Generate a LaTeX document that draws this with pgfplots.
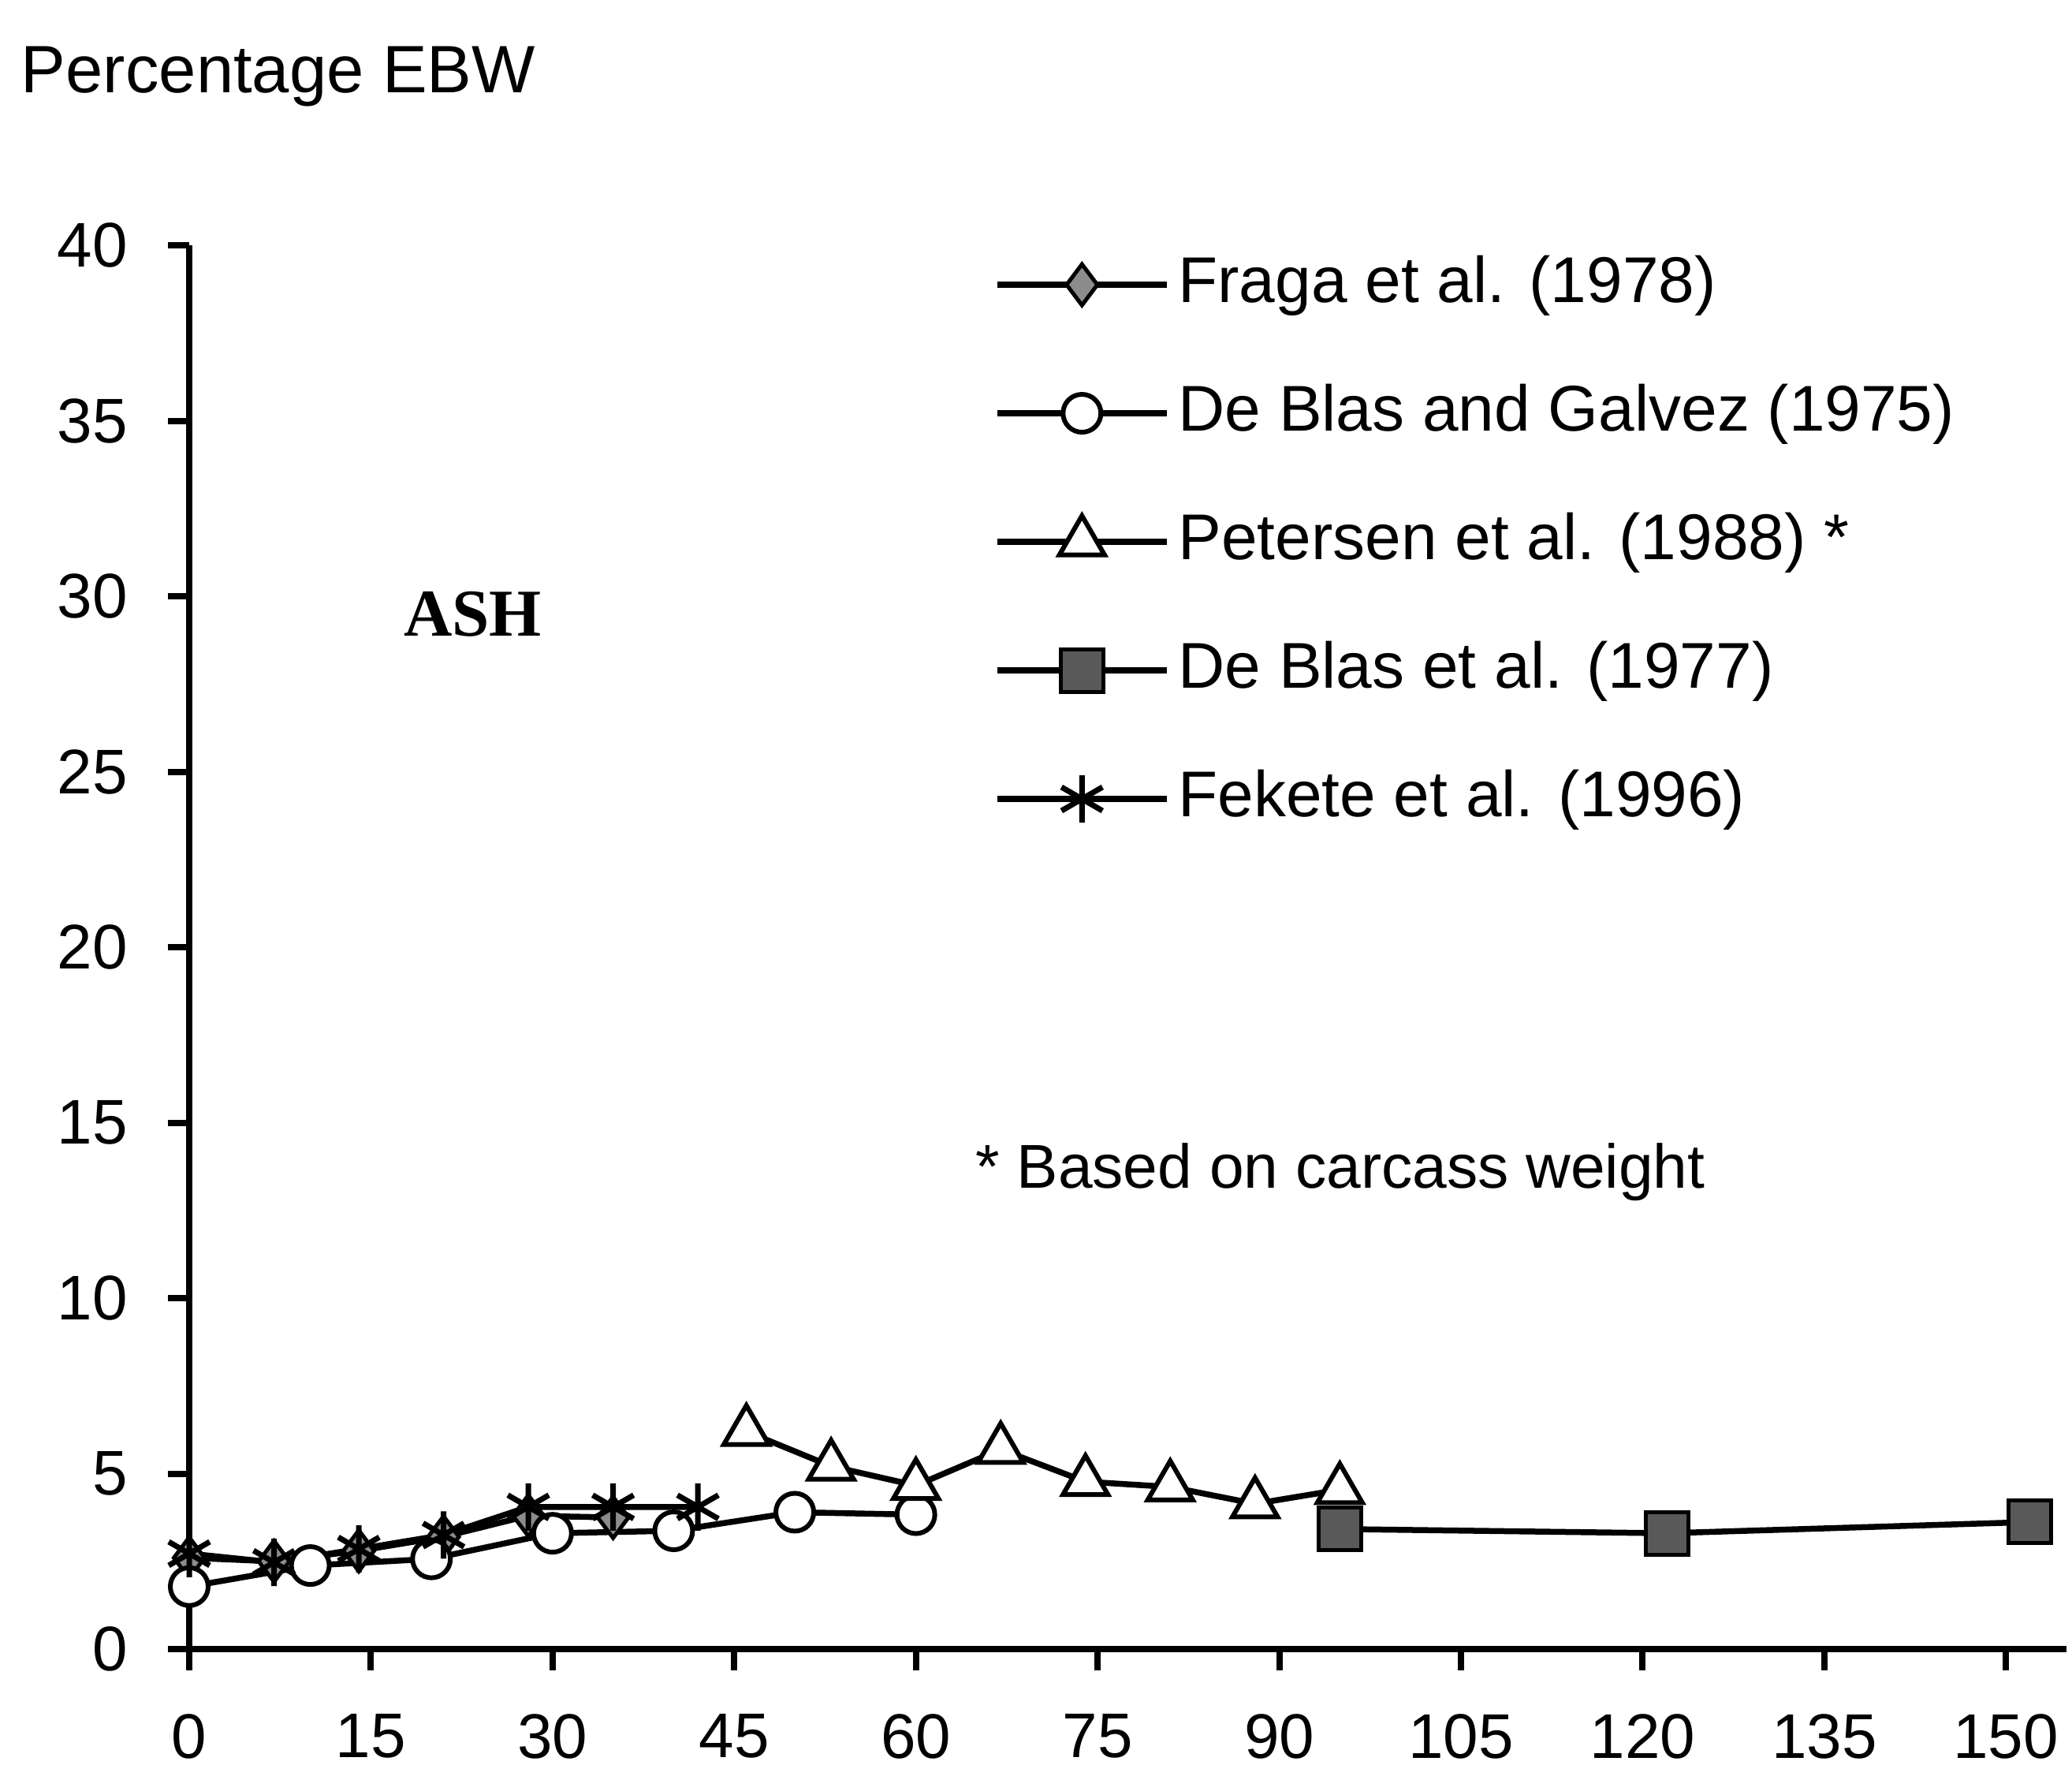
\documentclass[border=0pt]{standalone}
\usepackage{fontspec}
\setmainfont{Liberation Sans}
\newfontfamily\timesfont{Liberation Serif}
\usepackage{pgfplots}
\pgfplotsset{compat=1.18}

\begin{document}
\begin{tikzpicture}[x=1bp,y=1bp]
\useasboundingbox (0,0) rectangle (262.8,223.8);
\node[anchor=base west, inner sep=0pt, font=\fontsize{8.5bp}{10bp}\selectfont] at (2.5,212.1) {Percentage EBW};
\begin{axis}[
  at={(24bp,14.7bp)}, anchor=south west,
  scale only axis, width=238.1bp, height=178bp,
  xmin=0, xmax=155, ymin=0, ymax=40,
  axis x line*=bottom, axis y line*=left,
  axis line style={line width=0.8bp, -},
  xtick={0,15,...,150}, ytick={0,5,...,40},
  tick align=outside, major tick length=2.7bp,
  tick style={line width=0.8bp, black},
  ticklabel style={font=\fontsize{8bp}{9.6bp}\selectfont},
  /pgf/number format/assume math mode=true,
  xticklabel style={yshift=-2bp},
  yticklabel style={xshift=-1.6bp},
  legend style={at={(0.428,0.9955)}, anchor=north west, draw=none, fill=none,
    font=\fontsize{8.2bp}{9.8bp}\selectfont, row sep=8.3bp, inner sep=0pt,
    nodes={inner xsep=1.1bp, inner ysep=0pt, text height=6.2bp, text depth=1.8bp}},
  legend cell align=left,
  legend image code/.code={\draw[mark repeat=2,mark phase=2,#1] plot coordinates {(0bp,0bp) (10.75bp,0bp) (21.5bp,0bp)};},
  every axis plot/.append style={black, line width=0.75bp},
  clip=false,
]
\addplot[mark=diamond*, mark size=2.6bp, mark options={fill=black!45, draw=black, line width=0.5bp}]
  coordinates {(0,2.6) (7,2.5) (14,2.8) (21,3.2) (28,3.8) (35,3.75)};
\addlegendentry{Fraga et al. (1978)}
\addplot[mark=*, mark size=2.4bp, mark options={fill=white, draw=black, line width=0.6bp}]
  coordinates {(0,1.78) (10,2.38) (20,2.57) (30,3.3) (40,3.37) (50,3.9) (60,3.83)};
\addlegendentry{De Blas and Galvez (1975)}
\addplot[mark=triangle*, mark size=3.3bp, mark options={fill=white, draw=black, line width=0.6bp}]
  coordinates {(46,6.2) (53,5.21) (60,4.66) (67,5.69) (74,4.77) (81,4.62) (88,4.14) (95,4.54)};
\addlegendentry{Petersen et al. (1988) *}
\addplot[mark=square*, mark size=2.7bp, mark options={fill=black!65, draw=black, line width=0.5bp}]
  coordinates {(95,3.42) (122,3.3) (152,3.62)};
\addlegendentry{De Blas et al. (1977)}
\addplot[mark=asterisk, mark size=3bp, mark options={line width=0.7bp}]
  coordinates {(0,2.72) (7,2.47) (14,2.85) (21,3.25) (28,4.05) (35,4.05) (42,4.05)};
\addlegendentry{Fekete et al. (1996)}
\node[anchor=west, inner sep=0pt, font=\timesfont\bfseries\fontsize{8.5bp}{10bp}\selectfont] at (axis cs:17.6,29.5) {ASH};
\node[anchor=west, inner sep=0pt, font=\fontsize{7.85bp}{9.4bp}\selectfont] at (axis cs:64.8,13.6) {* Based on carcass weight};
\end{axis}
\end{tikzpicture}
\end{document}
